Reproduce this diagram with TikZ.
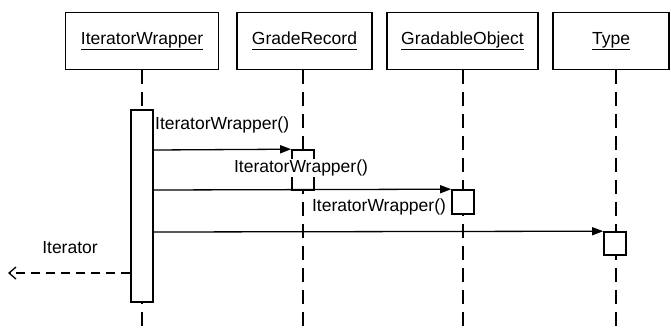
\documentclass[tikz,border=0pt]{standalone}
\usepackage{fontspec}
\setmainfont{Liberation Sans}
\usetikzlibrary{arrows.meta}
\newcommand\myul[1]{\underline{#1\vphantom{gp}}}
\begin{document}
\begin{tikzpicture}[x=1pt,y=-1pt,
  txt/.style={font=\fontsize{17.5}{20}\selectfont},
  head/.style={draw,line width=1.6pt,minimum width=#1,minimum height=57pt,inner sep=0pt,txt},
  act/.style={draw,fill=white,line width=1.6pt,inner sep=0pt,minimum width=22pt,minimum height=#1},
  life/.style={line width=1.6pt,dash pattern=on 14pt off 8pt},
  msg/.style={line width=1.3pt,-{Triangle[length=11pt,width=8pt]}},
  lbl/.style={txt,inner sep=1pt,fill=white},
  ret/.style={line width=1.3pt,dash pattern=on 9pt off 6pt,-{Straight Barb[length=7pt,width=12pt]}}]
\useasboundingbox (0,0) rectangle (671,330);
% headers
\node[head=153pt] (iw) at (142,41) {\myul{IteratorWrapper}};
\node[head=135pt] (gr) at (304.5,41) {\myul{GradeRecord}};
\node[head=151pt] (go) at (462.5,41) {\myul{GradableObject}};
\node[head=116pt] (ty) at (611,41) {\myul{Type}};
% lifeline ends
\coordinate (iwb) at (142,330);
\coordinate (grt) at (303,69.5);
\coordinate (grb) at (303,330);
\coordinate (got) at (463,69.5);
\coordinate (gob) at (463,330);
\coordinate (tyt) at (616,69.5);
\coordinate (tyb) at (616,330);
\draw[life] (iw.south) -- (iwb);
\draw[life] (grt) -- (grb);
\draw[life] (got) -- (gob);
\draw[life] (tyt) -- (tyb);
% activations
\node[act=192pt] (iwa) at (142,206) {};
\node[act=40pt] (gra) at (303,170) {};
\node[act=24pt] (goa) at (463,202) {};
\node[act=23pt] (tya) at (615,243.5) {};
% messages
\coordinate (s1) at (iwa.east |- 0,150);
\coordinate (s2) at (iwa.east |- 0,190);
\coordinate (s3) at (iwa.east |- 0,232);
\draw[msg] (s1) -- (gra.north west);
\draw[msg] (s2) -- (goa.north west);
\draw[msg] (s3) -- (tya.north west);
\node[lbl,anchor=west] (l1) at (154,125) {IteratorWrapper()};
\node[lbl] (l2) at (301,168) {IteratorWrapper()};
\node[lbl] (l3) at (379,207) {IteratorWrapper()};
% return
\coordinate (r0) at (iwa.west |- 0,273);
\coordinate (r1) at (8,273);
\draw[ret] (r0) -- (r1);
\node[txt] (lr) at (70,248) {Iterator};
\end{tikzpicture}
\end{document}
